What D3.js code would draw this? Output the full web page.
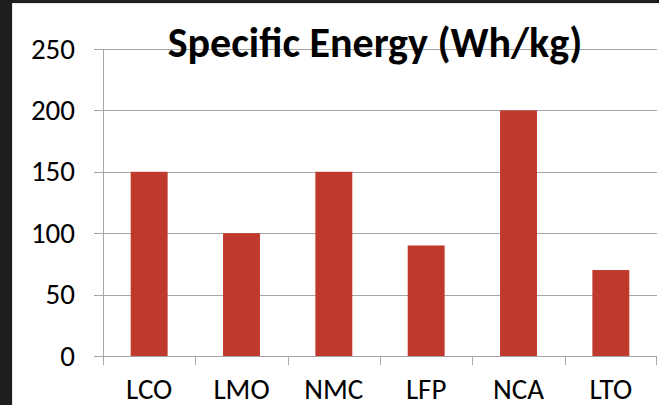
<!DOCTYPE html>
<html>
<head>
<meta charset="utf-8">
<script src="https://cdn.jsdelivr.net/npm/d3@7/dist/d3.min.js"></script>
<style>
  html, body { margin: 0; padding: 0; background: #ffffff; overflow: hidden; width: 100%; height: 100%; }
  svg { position: absolute; left: 0; top: 0; display: block; background: #ffffff; }
</style>
</head>
<body>
<svg id="chart" width="659" height="405"></svg>
<script>
// Specific energy of lithium-ion battery chemistries
const categories = ["LCO", "LMO", "NMC", "LFP", "NCA", "LTO"];
const values = [150, 100, 150, 90, 200, 70];
const yTicks = [0, 50, 100, 150, 200, 250];
const title = "Specific Energy (Wh/kg)";

const W = 659, H = 405;
const svg = d3.select("#chart");
const font = "Carlito, Calibri, Lato, 'Open Sans', sans-serif";

// frame: dark strips along the left and top edges with a light inner edge
svg.append("rect").attr("x", 0).attr("y", 0).attr("width", 12).attr("height", H).attr("fill", "#1e1e1e");
svg.append("rect").attr("x", 0).attr("y", 0).attr("width", W).attr("height", 3).attr("fill", "#1e1e1e");
svg.append("rect").attr("x", 12).attr("y", 3).attr("width", 1).attr("height", H - 3).attr("fill", "#e6e6e6");
svg.append("rect").attr("x", 12).attr("y", 3).attr("width", W - 12).attr("height", 1).attr("fill", "#e6e6e6");

const plot = { left: 103, right: 657, top: 49, bottom: 356 };

const x = d3.scaleBand()
  .domain(categories)
  .range([plot.left, plot.right])
  .paddingInner(0.6)
  .paddingOuter(0.3);

const y = d3.scaleLinear()
  .domain([0, 250])
  .range([plot.bottom, plot.top]);

const gridColor = "#a6a6a6";

// horizontal gridlines with short left ticks
svg.append("g").selectAll("line")
  .data(yTicks)
  .join("line")
  .attr("x1", plot.left - 9)
  .attr("x2", plot.right)
  .attr("y1", d => Math.round(y(d)) + 0.5)
  .attr("y2", d => Math.round(y(d)) + 0.5)
  .attr("stroke", gridColor)
  .attr("stroke-width", 1);

// title sits over the top gridline
svg.append("text")
  .attr("x", 375)
  .attr("y", 57)
  .attr("text-anchor", "middle")
  .attr("font-family", font)
  .attr("font-weight", "bold")
  .attr("font-size", 42)
  .attr("fill", "#000")
  .text(title);

// bars
svg.append("g").selectAll("rect")
  .data(values)
  .join("rect")
  .attr("x", (d, i) => x(categories[i]))
  .attr("width", x.bandwidth())
  .attr("y", d => y(d))
  .attr("height", d => y(0) - y(d))
  .attr("fill", "#c0392d");

// value axis line
svg.append("line")
  .attr("x1", plot.left + 0.5).attr("x2", plot.left + 0.5)
  .attr("y1", plot.top).attr("y2", plot.bottom)
  .attr("stroke", gridColor);

// category axis line and boundary ticks
const step = x.step();
const bounds = d3.range(categories.length + 1).map(i => x(categories[0]) - x.paddingOuter() * step + i * step);
svg.append("line")
  .attr("x1", plot.left).attr("x2", plot.right)
  .attr("y1", Math.round(y(0)) + 0.5).attr("y2", Math.round(y(0)) + 0.5)
  .attr("stroke", gridColor);
svg.append("g").selectAll("line")
  .data(bounds)
  .join("line")
  .attr("x1", d => Math.min(Math.round(d), plot.right - 1) + 0.5)
  .attr("x2", d => Math.min(Math.round(d), plot.right - 1) + 0.5)
  .attr("y1", y(0))
  .attr("y2", y(0) + 9)
  .attr("stroke", gridColor);

// value tick labels
svg.append("g").selectAll("text")
  .data(yTicks)
  .join("text")
  .attr("x", 75)
  .attr("y", d => y(d) + 9.5)
  .attr("text-anchor", "end")
  .attr("font-family", font)
  .attr("font-size", 29)
  .attr("fill", "#000")
  .text(d => d);

// category labels
svg.append("g").selectAll("text")
  .data(categories)
  .join("text")
  .attr("x", d => x(d) + x.bandwidth() / 2)
  .attr("y", 399)
  .attr("text-anchor", "middle")
  .attr("font-family", font)
  .attr("font-size", 29)
  .attr("fill", "#000")
  .text(d => d);
</script>
</body>
</html>
